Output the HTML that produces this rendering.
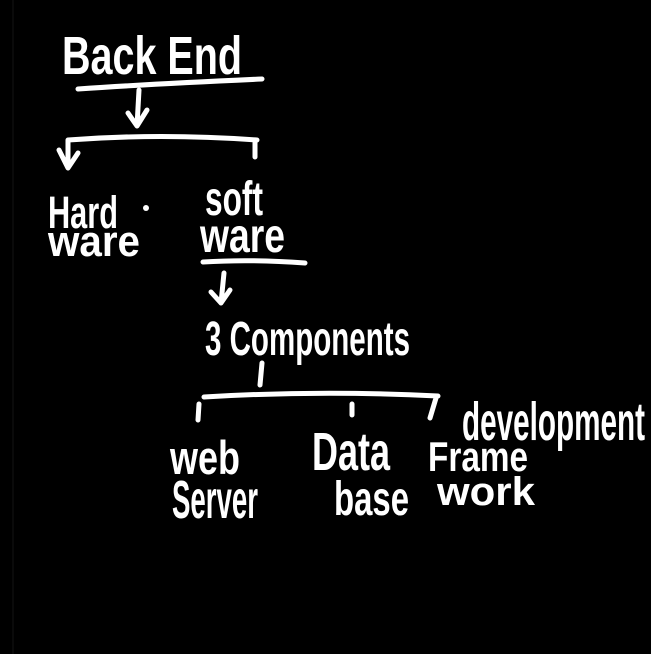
<!DOCTYPE html>
<html><head><meta charset="utf-8"><style>
html,body{margin:0;padding:0;background:#000;}
svg{display:block}
text{font-family:"Liberation Sans",sans-serif;font-weight:bold;fill:#fff;}
</style></head><body>
<svg width="651" height="654" viewBox="0 0 651 654" xmlns="http://www.w3.org/2000/svg">
<rect width="651" height="654" fill="#000"/>
<line x1="13" y1="0" x2="13" y2="654" stroke="#141414" stroke-width="1"/>
<g stroke="#fff" stroke-width="5" fill="none" stroke-linecap="round" stroke-linejoin="round">
<path d="M78 89 Q150 84 262 79"/>
<path d="M139 90 L137 126 M128 113 L137 126 L147 110"/>
<path d="M68 140 Q160 133 257 140 M68 140 L68 168 M59 150 L68 168 L78 153 M255 140 L255 157"/>
<path d="M203 262 Q250 259 305 263"/>
<path d="M224 273 L221 303 M211 292 L221 303 L230 290"/>
<path d="M262 363 L260 385"/>
<path d="M204 397 Q320 390 438 396 M199 404 L198 420 M352 404 L352 415 M436 398 L430 418"/>
</g>
<circle cx="146" cy="208" r="3" fill="#fff"/>
<text x="62" y="74" font-size="54" textLength="180" lengthAdjust="spacingAndGlyphs">Back End</text>
<text x="48" y="228" font-size="45" textLength="70" lengthAdjust="spacingAndGlyphs">Hard</text>
<text x="48" y="256" font-size="44" textLength="92" lengthAdjust="spacingAndGlyphs">ware</text>
<text x="205" y="215" font-size="48" textLength="58" lengthAdjust="spacingAndGlyphs">soft</text>
<text x="200" y="252" font-size="48" textLength="85" lengthAdjust="spacingAndGlyphs">ware</text>
<text x="205" y="355" font-size="48" textLength="205" lengthAdjust="spacingAndGlyphs">3 Components</text>
<text x="170" y="474" font-size="47" textLength="70" lengthAdjust="spacingAndGlyphs">web</text>
<text x="172" y="518" font-size="54" textLength="86" lengthAdjust="spacingAndGlyphs">Server</text>
<text x="312" y="470" font-size="54" textLength="78" lengthAdjust="spacingAndGlyphs">Data</text>
<text x="334" y="515" font-size="48" textLength="75" lengthAdjust="spacingAndGlyphs">base</text>
<text x="462" y="440" font-size="54" textLength="183" lengthAdjust="spacingAndGlyphs">development</text>
<text x="428" y="471" font-size="42" textLength="100" lengthAdjust="spacingAndGlyphs">Frame</text>
<text x="437" y="505" font-size="40" textLength="98" lengthAdjust="spacingAndGlyphs">work</text>
</svg>
</body></html>
